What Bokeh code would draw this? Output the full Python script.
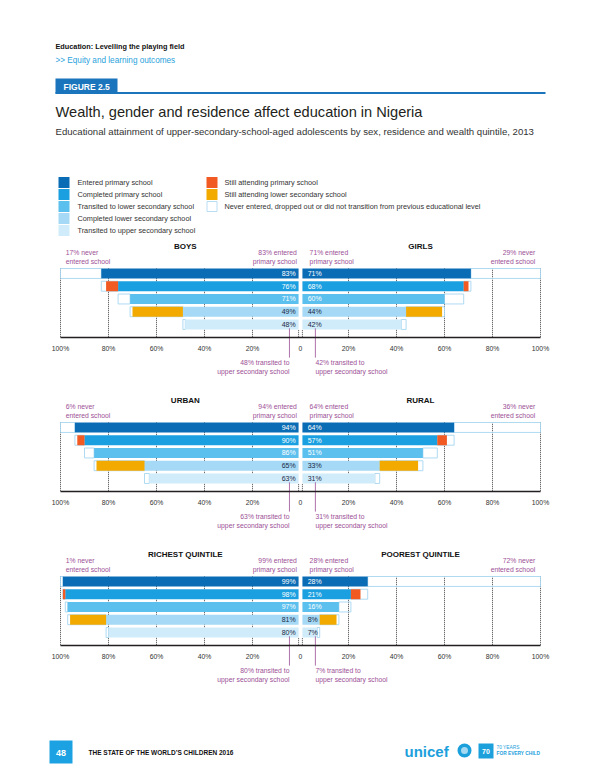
from bokeh.plotting import figure
from bokeh.layouts import column
from bokeh.models import Range1d, FixedTicker
from bokeh.embed import file_html
from bokeh.resources import INLINE
from bokeh.core.properties import value

# ---------------- data ----------------
stages = ["Entered primary school", "Completed primary school",
          "Transited to lower secondary school", "Completed lower secondary school",
          "Transited to upper secondary school"]
still_labels = ["Still attending primary school", "Still attending lower secondary school"]
never_label = "Never entered, dropped out or did not transition from previous educational level"

group_names = [("BOYS", "GIRLS"), ("URBAN", "RURAL"), ("RICHEST QUINTILE", "POOREST QUINTILE")]

boys = [83, 76, 71, 49, 48]
girls = [71, 68, 60, 44, 42]
urban = [94, 90, 86, 65, 63]
rural = [64, 57, 51, 33, 31]
richest = [99, 98, 97, 81, 80]
poorest = [28, 21, 16, 8, 7]

# still attending primary (completed-primary row), still attending lower secondary (completed-lower-sec row)
boys_still = [5, 21]
girls_still = [2, 15]
urban_still = [3, 20]
rural_still = [4, 16]
richest_still = [1, 15]
poorest_still = [4, 7]

tick_values = [-100, -80, -60, -40, -20, 0, 20, 40, 60, 80, 100]
tick_labels = ["100%", "80%", "60%", "40%", "20%", "0", "20%", "40%", "60%", "80%", "100%"]

# ---------------- style ----------------
FONT = "Liberation Sans"
F = value(FONT)
STAGE_COLORS = ["#0a6cb5", "#1a9fe0", "#5cc0ee", "#a5d9f5", "#d0ebf9"]
STILL_COLORS = ["#f15a22", "#f2a900"]
NEVER_LINE = "#a6d6f1"
PURPLE = "#9c4f96"
DARK = "#231f20"
BLUE = "#1b75bc"

W = 600
PANEL_H = 154
PX_PER_ROW = 12.75
Y_TOP = 7.9
Y_BOT = Y_TOP - PANEL_H / PX_PER_ROW
X_HALF = 125  # data units visible on each side (100% axis spans 240 px)
BAR_H = 0.78
GAP = 0.8


def blank(height, y_bottom, y_top):
    p = figure(width=W, height=height, x_range=Range1d(0, W), y_range=Range1d(y_bottom, y_top),
               output_backend="svg", toolbar_location=None, x_axis_location=None,
               y_axis_location=None, min_border=0, title=None)
    p.outline_line_color = None
    p.xgrid.visible = False
    p.ygrid.visible = False
    return p


# ---------------- header ----------------
h = blank(236, 236, 0)
h.text(x=[55], y=[46], text=["Education: Levelling the playing field"], text_font=F,
       text_font_style="bold", text_font_size="7.3px", text_baseline="middle", text_color="#111111")
h.text(x=[55], y=[60], text=[">> Equity and learning outcomes"], text_font=F,
       text_font_size="8.2px", text_baseline="middle", text_color="#2aa3dc")
h.quad(left=[55], right=[117], top=[78], bottom=[93], fill_color=BLUE, line_color=None)
h.segment(x0=[55], y0=[92.5], x1=[545], y1=[92.5], line_color=BLUE, line_width=2)
h.text(x=[63], y=[86], text=["FIGURE 2.5"], text_font=F, text_font_style="bold",
       text_font_size="8.5px", text_baseline="middle", text_color="white")
h.text(x=[55], y=[111], text=["Wealth, gender and residence affect education in Nigeria"], text_font=F,
       text_font_size="14.6px", text_baseline="middle", text_color=DARK)
h.text(x=[55], y=[131], text=["Educational attainment of upper-secondary-school-aged adolescents by sex, residence and wealth quintile, 2013"],
       text_font=F, text_font_size="9.6px", text_baseline="middle", text_color="#333333")

leg_y = [182, 194, 206, 218, 230]
h.rect(x=[63.5] * 5, y=leg_y, width=11, height=11, fill_color=STAGE_COLORS, line_color=None)
h.text(x=[77] * 5, y=leg_y, text=stages, text_font=F, text_font_size="7.3px",
       text_baseline="middle", text_color="#333333")
h.rect(x=[211.5] * 2, y=leg_y[:2], width=11, height=11, fill_color=STILL_COLORS, line_color=None)
h.rect(x=[211.5], y=leg_y[2], width=10, height=10, fill_color="white", line_color=NEVER_LINE, line_width=0.8)
h.text(x=[224] * 3, y=leg_y[:3], text=still_labels + [never_label], text_font=F, text_font_size="7.3px",
       text_baseline="middle", text_color="#333333")


# ---------------- panels ----------------
def make_panel(names, lvals, rvals, lstill, rstill):
    p = figure(width=W, height=PANEL_H, x_range=Range1d(-X_HALF, X_HALF), y_range=Range1d(Y_BOT, Y_TOP),
               output_backend="svg", toolbar_location=None, y_axis_location=None, title=None,
               min_border=0)
    p.outline_line_color = None
    p.xgrid.visible = False
    p.ygrid.visible = False
    ax = p.xaxis[0]
    ax.fixed_location = 0
    ax.bounds = (-100, 100)
    ax.ticker = FixedTicker(ticks=tick_values)
    ax.major_label_overrides = {t: l for t, l in zip(tick_values, tick_labels)}
    ax.major_tick_line_color = None
    ax.minor_tick_line_color = None
    ax.axis_line_color = DARK
    ax.axis_line_width = 1.3
    ax.major_label_standoff = 2
    ax.major_label_text_font = FONT
    ax.major_label_text_font_size = "6.8px"
    ax.major_label_text_color = "#333333"

    n = len(stages)
    ys = [n - i for i in range(n)]
    row_top = ys[0] + BAR_H / 2
    row_bottom = ys[-1] - BAR_H / 2

    # dotted grid lines behind bars
    gx = [t for t in tick_values if t != 0]
    p.segment(x0=gx, y0=[0] * len(gx), x1=gx, y1=[row_top] * len(gx),
              line_color="#444444", line_dash="1 1", line_width=1)
    p.segment(x0=[-GAP, GAP], y0=[0, 0], x1=[-GAP, GAP], y1=[row_bottom, row_bottom],
              line_color="#444444", line_dash="1 1", line_width=1)

    for side, vals, still, name in ((-1, lvals, lstill, names[0]), (1, rvals, rstill, names[1])):
        prev = [100] + vals[:-1]
        a = [side * v for v in vals]
        b = [side * q for q in prev]
        # boxes: did not reach this stage (from value to previous stage)
        p.hbar(y=ys, height=BAR_H, left=[min(x, y) for x, y in zip(a, b)], right=[max(x, y) for x, y in zip(a, b)],
               fill_alpha=0, line_color=NEVER_LINE, line_width=0.9)
        # main bars
        inner = [side * GAP] * n
        p.hbar(y=ys, height=BAR_H, left=[min(x, y) for x, y in zip(a, inner)],
               right=[max(x, y) for x, y in zip(a, inner)], fill_color=STAGE_COLORS, line_color=None)
        # still attending segments
        for k, (row, col) in enumerate(((1, STILL_COLORS[0]), (3, STILL_COLORS[1]))):
            s0 = side * vals[row]
            s1 = side * (vals[row] + still[k])
            p.hbar(y=[ys[row]], height=BAR_H, left=[min(s0, s1)], right=[max(s0, s1)],
                   fill_color=col, line_color=None)
        # value labels
        align = "right" if side < 0 else "left"
        lx = -2 if side < 0 else 3
        p.text(x=[lx] * n, y=ys, text=[f"{v}%" for v in vals], text_font=F, text_font_size="7px",
               text_align=align, text_baseline="middle",
               text_color=["white", "white", "white", "#1b2a47", "#1b2a47"])
        # group title
        p.text(x=[-48 if side < 0 else 50], y=[7.12], text=[name], text_font=F, text_font_style="bold",
               text_font_size="8px", text_align="center", text_baseline="middle", text_color="#111111")
        # top annotations
        never = 100 - vals[0]
        p.text(x=[side * 97.8], y=[6.92], text=[f"{never}% never\nentered school"], text_font=F,
               text_font_size="6.8px", text_align="left" if side < 0 else "right", text_baseline="top",
               text_color=PURPLE, text_line_height=1.25)
        p.text(x=[-1.5 if side < 0 else 3.8], y=[6.92], text=[f"{vals[0]}% entered\nprimary school"], text_font=F,
               text_font_size="6.8px", text_align=align, text_baseline="top",
               text_color=PURPLE, text_line_height=1.25)
        # bottom annotation (transited to upper secondary)
        lxp = -4.6 if side < 0 else 6.2
        p.segment(x0=[lxp], y0=[ys[-1] - 0.3], x1=[lxp], y1=[-1.6], line_color=PURPLE, line_width=0.8)
        p.text(x=[lxp], y=[-1.72], text=[f"{vals[-1]}% transited to\nupper secondary school"], text_font=F,
               text_font_size="6.8px", text_align=align, text_baseline="top",
               text_color=PURPLE, text_line_height=1.25)
    return p


panels = [
    make_panel(group_names[0], boys, girls, boys_still, girls_still),
    make_panel(group_names[1], urban, rural, urban_still, rural_still),
    make_panel(group_names[2], richest, poorest, richest_still, poorest_still),
]

# ---------------- footer ----------------
ft = blank(76, 774, 698)
ft.quad(left=[49], right=[72], top=[740], bottom=[763], fill_color="#1ca1e2", line_color=None)
ft.text(x=[60.5], y=[752], text=["48"], text_font=F, text_font_style="bold", text_font_size="9px",
        text_align="center", text_baseline="middle", text_color="white")
ft.text(x=[88], y=[752], text=["THE STATE OF THE WORLD\u2019S CHILDREN 2016"], text_font=F,
        text_font_style="bold", text_font_size="6.5px", text_baseline="middle", text_color="#111111")
ft.text(x=[404], y=[751], text=["unicef"], text_font=F, text_font_style="bold", text_font_size="15px",
        text_baseline="middle", text_color="#1ca0dc")
ft.scatter(x=[464], y=[750], size=14, marker="circle", fill_color="#1ca0dc", line_color=None)
ft.scatter(x=[464], y=[750], size=7, marker="circle", fill_color="white", line_color=None, fill_alpha=0.6)
ft.quad(left=[478], right=[493], top=[743], bottom=[758], fill_color="#1ca0dc", line_color=None)
ft.text(x=[485.5], y=[750.5], text=["70"], text_font=F, text_font_style="bold", text_font_size="7px",
        text_align="center", text_baseline="middle", text_color="white")
ft.text(x=[496], y=[747], text=["70 YEARS"], text_font=F, text_font_size="4.8px",
        text_baseline="middle", text_color="#1ca0dc")
ft.text(x=[496], y=[753], text=["FOR EVERY CHILD"], text_font=F, text_font_style="bold", text_font_size="4.8px",
        text_baseline="middle", text_color="#1ca0dc")

layout = column([h] + panels + [ft], spacing=0)
open("out.html", "w").write(file_html(layout, INLINE))
